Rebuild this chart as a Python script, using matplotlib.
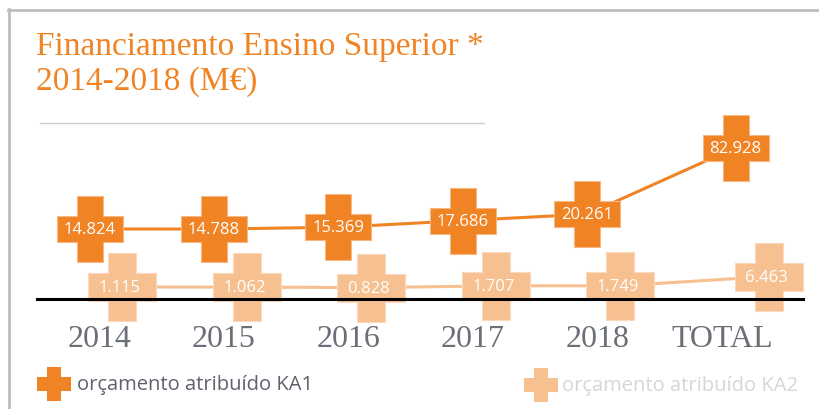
import numpy as np
import matplotlib
matplotlib.use("Agg")
import matplotlib.pyplot as plt
from matplotlib.path import Path
from matplotlib.lines import Line2D

# ---- data ----
categories = ["2014", "2015", "2016", "2017", "2018", "TOTAL"]
ka1_values = [14.824, 14.788, 15.369, 17.686, 20.261, 82.928]
ka2_values = [1.115, 1.062, 0.828, 1.707, 1.749, 6.463]
title_text = "Financiamento Ensino Superior *\n2014-2018 (M€)"
legend_ka1 = "orçamento atribuído KA1"
legend_ka2 = "orçamento atribuído KA2"

# ---- style ----
ORANGE = "#F08424"
LIGHT = "#F6C091"
TICK_GRAY = "#6B6F78"
W, H = 820, 410

a, b = 0.2, 0.5
plus = Path([(-a, -b), (a, -b), (a, -a), (b, -a), (b, a), (a, a), (a, b),
             (-a, b), (-a, a), (-b, a), (-b, -a), (-a, -a), (-a, -b)],
            closed=True)

fig = plt.figure(figsize=(W / 100, H / 100), dpi=100)
fig.patch.set_facecolor("white")

ax = fig.add_axes([37 / W, (H - 300) / H, 766 / W, 190 / H])
ax2 = ax.twinx()

x = np.arange(len(categories), dtype=float)
x[-1] += 0.19
x2 = x + 0.265

# KA2 on base axes (linear)
ax.plot(x2, ka2_values, color=LIGHT, lw=2.2, marker=plus, markersize=49,
        mfc=LIGHT, mec="#FBD9BC", mew=0.8, clip_on=False, zorder=2)
for xi, v in zip(x2, ka2_values):
    ax.text(xi - 0.02, v, f"{v:.3f}", ha="center", va="center", color="white",
            fontsize=12, family="Open Sans", fontweight="medium", zorder=3)
ax.set_ylim(-5.0, 91.9)

# KA1 on twin axes (log)
ax2.set_yscale("log")
ax2.plot(x, ka1_values, color=ORANGE, lw=2.2, marker=plus, markersize=47,
         mfc=ORANGE, mec="#F7B783", mew=0.8, clip_on=False, zorder=2)
for xi, v in zip(x, ka1_values):
    ax2.text(xi, v, f"{v:.3f}", ha="center", va="center", color="white",
             fontsize=12, family="Open Sans", fontweight="medium", zorder=3)
ax2.set_ylim(3.365, 187.6)
ax.set_xlim(-0.4217, 5.731)

for s in ax.spines.values():
    s.set_visible(False)
for k, s in ax2.spines.items():
    s.set_visible(k == "bottom")
ax2.spines["bottom"].set_color("black")
ax2.spines["bottom"].set_linewidth(2.2)
ax2.spines["bottom"].set_zorder(5)
ax.set_yticks([])
ax2.set_yticks([])
ax2.yaxis.set_minor_locator(matplotlib.ticker.NullLocator())

ax.set_xticks(np.arange(len(categories)) + 0.08, categories)
ax.tick_params(axis="x", length=0, pad=18)
for t in ax.get_xticklabels():
    t.set_fontfamily("Liberation Serif")
    t.set_fontsize(23)
    t.set_color(TICK_GRAY)

# title
fig.text(36 / W, 1 - 31 / H, title_text, ha="left", va="top",
         fontsize=24, family="Liberation Serif", color=ORANGE, linespacing=1.18)

# rule under title
fig.add_artist(Line2D([40 / W, 484 / W], [1 - 124 / H] * 2, color="#CBCBCB", lw=0.9))

# border
fig.add_artist(Line2D([9 / W, 9 / W], [0, 1 - 10 / H], color="#BDBDBD", lw=2))
fig.add_artist(Line2D([8 / W, 1], [1 - 11 / H] * 2, color="#BDBDBD", lw=2))

# legend
fig.add_artist(Line2D([54.5 / W], [1 - 384.5 / H], marker=plus, markersize=25,
                      mfc=ORANGE, mec=ORANGE, mew=0, ls="none"))
fig.text(77 / W, 1 - 385 / H, legend_ka1, ha="left", va="center", fontsize=14.5,
         family="Open Sans", fontweight="medium", color="#5E626B")
fig.add_artist(Line2D([541 / W], [1 - 385.5 / H], marker=plus, markersize=24,
                      mfc=LIGHT, mec=LIGHT, mew=0, ls="none"))
fig.text(562 / W, 1 - 386 / H, legend_ka2, ha="left", va="center", fontsize=14.5,
         family="Open Sans", fontweight="medium", color="#D5D6DA")

fig.savefig("out.png", dpi=100, facecolor="white")
